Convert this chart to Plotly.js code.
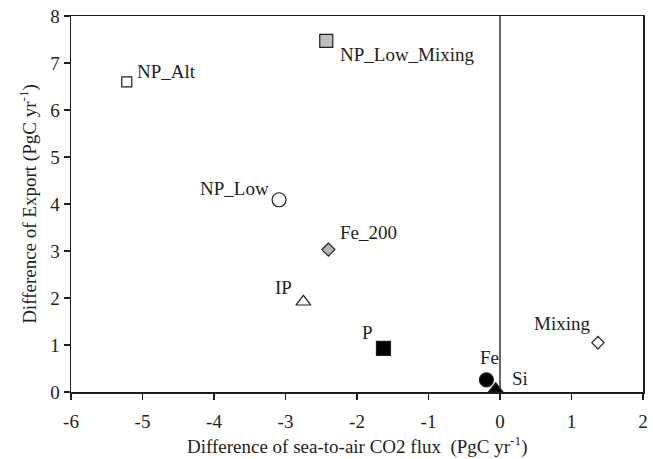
<!DOCTYPE html>
<html>
<head>
<meta charset="utf-8">
<script src="https://cdn.plot.ly/plotly-3.0.1.min.js"></script>
<style>html,body{margin:0;padding:0;background:#fff;}#chart{width:653px;height:459px;}</style>
</head>
<body>
<div id="chart"></div>
<script>
// ---- data ----
const experiments = ['NP_Alt', 'NP_Low_Mixing', 'NP_Low', 'Fe_200', 'IP', 'P', 'Fe', 'Si', 'Mixing'];
const co2FluxDiff = [-5.22, -2.43, -3.09, -2.40, -2.75, -1.63, -0.19, -0.06, 1.37];
const exportDiff  = [6.60, 7.47, 4.09, 3.03, 1.92, 0.93, 0.26, 0.06, 1.05];
const xTickValues = [-6, -5, -4, -3, -2, -1, 0, 1, 2];
const xTickLabels = ['-6', '-5', '-4', '-3', '-2', '-1', '0', '1', '2'];
const yTickValues = [0, 1, 2, 3, 4, 5, 6, 7, 8];
const yTickLabels = ['0', '1', '2', '3', '4', '5', '6', '7', '8'];
const xTitle = 'Difference of sea-to-air CO2 flux&nbsp; (PgC yr<sup>-1</sup>)';
const yTitle = 'Difference of Export (PgC yr<sup>-1</sup>)';

// ---- styles (one per experiment) ----
const markerSymbols = ['square', 'square', 'circle', 'diamond', 'triangle-up', 'square', 'circle', 'triangle-up', 'diamond'];
const markerSizes   = [10, 13, 14, 10, 13, 14, 14, 13, 9.5];
const markerFills   = ['#ffffff', '#bfbfbf', '#ffffff', '#b5b5b5', '#ffffff', '#000000', '#000000', '#000000', '#ffffff'];
// label placement: [xanchor, xshift, yshift]
const labelPlacement = [
  ['left', 8, 10], ['left', 12, -14], ['right', -8, 11], ['left', 10, 17],
  ['right', -9, 14], ['right', -8, 16], ['center', 3, 22], ['left', 14, 11], ['right', -6, 19]
];

const FONT = 'Liberation Serif, Times New Roman, serif';
const INK = '#1e1e1e';
const XRANGE = [-6, 2];

const trace = {
  type: 'scatter', mode: 'markers',
  x: co2FluxDiff, y: exportDiff, text: experiments,
  cliponaxis: false, hoverinfo: 'text',
  marker: {
    symbol: markerSymbols, size: markerSizes, color: markerFills, opacity: 1,
    line: {color: INK, width: 1.2}
  }
};
// invisible twin on the label axis so that axis is drawn
const labelAxisTrace = {
  type: 'scatter', mode: 'markers', x: co2FluxDiff, y: exportDiff,
  xaxis: 'x2', yaxis: 'y', hoverinfo: 'skip', showlegend: false,
  marker: {opacity: 0, size: 1}
};

const annotations = experiments.map((name, i) => ({
  x: co2FluxDiff[i], y: exportDiff[i], xref: 'x', yref: 'y',
  text: name, showarrow: false,
  xanchor: labelPlacement[i][0], yanchor: 'middle',
  xshift: labelPlacement[i][1], yshift: labelPlacement[i][2],
  font: {family: FONT, size: 19, color: INK}
}));
annotations.push({
  xref: 'paper', yref: 'paper', x: 0.5, y: -0.142, xanchor: 'center', yanchor: 'middle',
  text: xTitle, showarrow: false, font: {family: FONT, size: 19, color: INK}
});

const layout = {
  width: 653, height: 459,
  margin: {l: 71, r: 10, t: 16, b: 67},
  paper_bgcolor: '#fff', plot_bgcolor: '#fff',
  showlegend: false,
  font: {family: FONT, size: 19, color: INK},
  xaxis: {
    range: XRANGE, tickvals: xTickValues, showticklabels: false,
    ticks: 'outside', ticklen: 6, tickwidth: 1.2, tickcolor: INK,
    showline: true, mirror: true, linecolor: INK, linewidth: 1.5,
    showgrid: false, zeroline: true, zerolinecolor: '#666', zerolinewidth: 1.3,
    automargin: false, fixedrange: true
  },
  xaxis2: {
    overlaying: 'x', anchor: 'y', side: 'bottom',
    range: XRANGE, tickvals: xTickValues, ticktext: xTickLabels,
    ticks: 'outside', ticklen: 12, tickcolor: 'rgba(0,0,0,0)',
    showline: false, showgrid: false, zeroline: false,
    tickfont: {family: FONT, size: 19, color: INK},
    automargin: false, fixedrange: true
  },
  yaxis: {
    range: [0, 8], tickvals: yTickValues, ticktext: yTickLabels,
    ticks: 'outside', ticklen: 6, tickwidth: 1.2, tickcolor: INK,
    showline: true, mirror: true, linecolor: INK, linewidth: 1.5,
    showgrid: false, zeroline: false,
    tickfont: {family: FONT, size: 19, color: INK},
    title: {text: yTitle, font: {family: FONT, size: 19, color: INK}, standoff: 8},
    automargin: false, fixedrange: true
  },
  annotations: annotations
};

Plotly.newPlot('chart', [labelAxisTrace, trace], layout, {displayModeBar: false, staticPlot: true});
</script>
</body>
</html>
